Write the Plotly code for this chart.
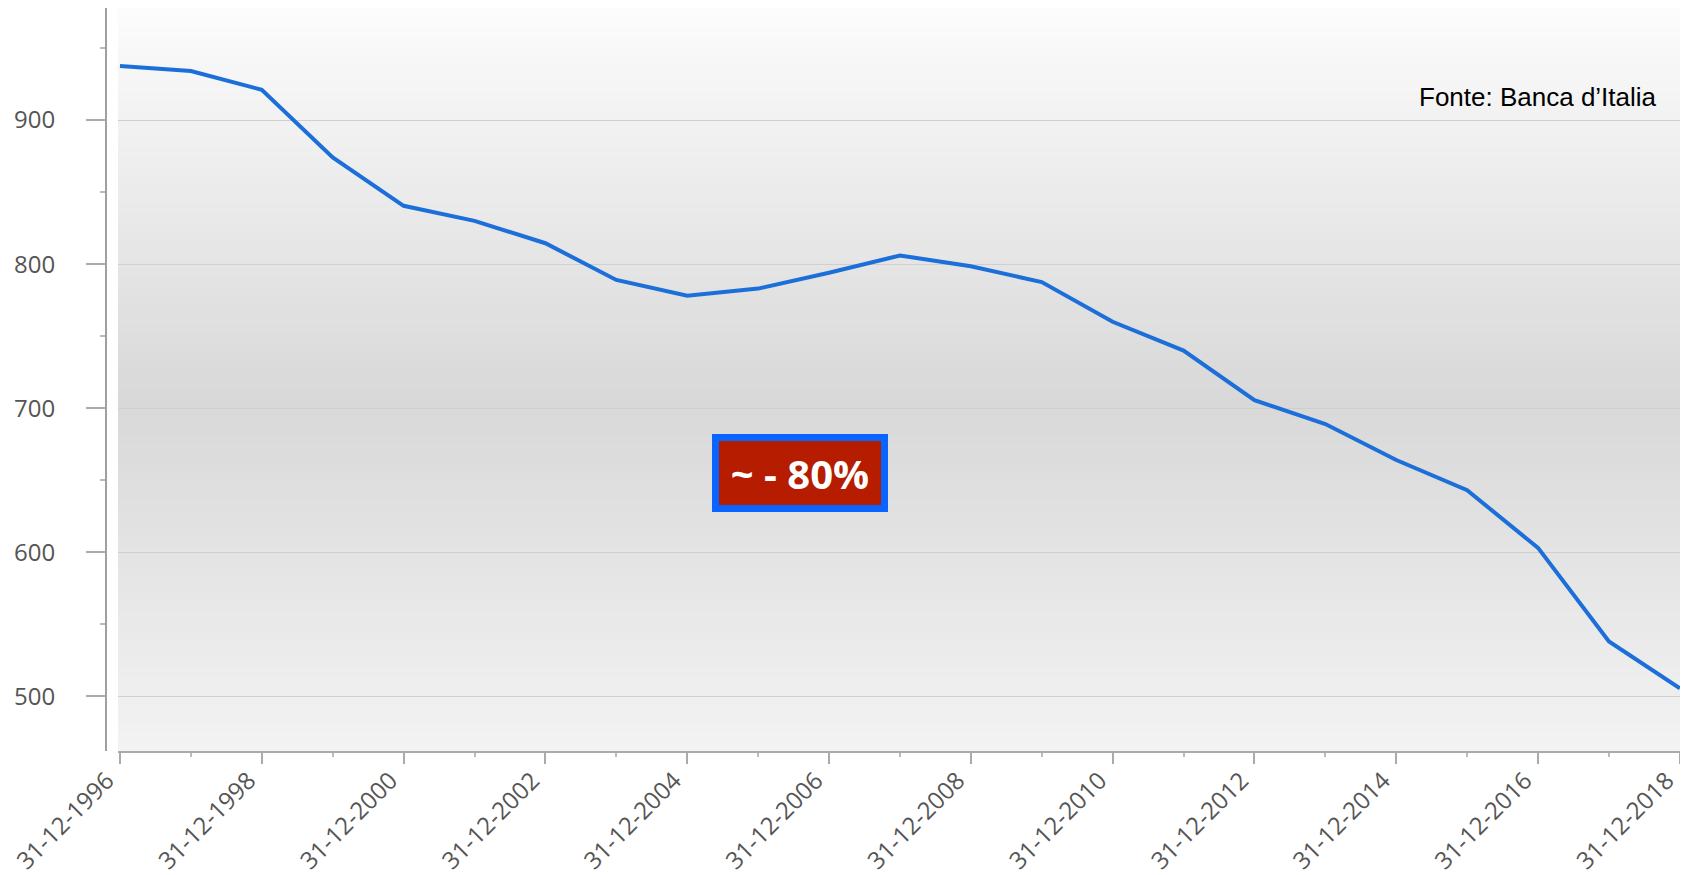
import plotly.graph_objects as go

# ---- data ----
years = list(range(1996, 2019))
values = [937.5, 934, 921, 874, 840.5, 830, 814.5, 789, 778, 783, 794, 806,
          798.5, 787.5, 760, 740, 705.5, 689, 664, 643, 603, 538, 505.5]
major_tick_years = list(range(1996, 2019, 2))
major_tick_labels = [f"31-12-{y}" for y in major_tick_years]
minor_tick_years = list(range(1997, 2019, 2))
y_ticks = [500, 600, 700, 800, 900]
source_text = "Fonte: Banca d\u2019Italia"
badge_text = "~ - 80%"

# the page body has an 8px margin, so the figure starts at (8, 8)
OFF = 8
W, H = 1688 - OFF, 875 - OFF
ML, MR, MT, MB = 92, 6, 0, 124
plot_w = W - ML - MR
plot_h = H - MT - MB
PLOT_LEFT = OFF + ML          # page x of paper 0
PLOT_BOTTOM = OFF + H - MB    # page y of paper 0


def px(x_page):
    return (x_page - PLOT_LEFT) / plot_w


def py(y_page):
    return (PLOT_BOTTOM - y_page) / plot_h


fig = go.Figure()
fig.add_trace(go.Scatter(
    x=years, y=values, mode="lines",
    line=dict(color="#1c6fd9", width=4),
    hoverinfo="skip", showlegend=False,
))

# background vertical gradient (light top, darker middle, light bottom)
def grad(f):
    stops = [(0.0, 243), (0.47, 216), (1.0, 252)]
    for (f0, c0), (f1, c1) in zip(stops[:-1], stops[1:]):
        if f0 <= f <= f1:
            t = (f - f0) / (f1 - f0)
            return int(round(c0 + (c1 - c0) * t))
    return stops[-1][1]

shapes = []
N = 80
for i in range(N):
    f0, f1 = i / N, (i + 1) / N
    c = grad((f0 + f1) / 2)
    shapes.append(dict(type="rect", xref="x domain", yref="y domain",
                       x0=0, x1=1, y0=f0, y1=f1 + 0.002,
                       fillcolor=f"rgb({c},{c},{c})", line=dict(width=0),
                       layer="below"))

fig.update_layout(
    width=W, height=H,
    margin=dict(l=ML, r=MR, t=MT, b=MB),
    paper_bgcolor="white", plot_bgcolor="white",
    shapes=shapes,
    xaxis=dict(
        domain=[px(118), 1], automargin=False,
        range=[1995.972, 2018.03],
        tickvals=major_tick_years, ticktext=major_tick_labels,
        tickangle=-45, ticks="outside", ticklen=11, tickwidth=1.5,
        tickcolor="#aaaaaa", ticklabelstandoff=-7, ticklabelshift=-13,
        tickfont=dict(family="Open Sans", size=24, color="#555555"),
        showgrid=False, zeroline=False,
        showline=True, linecolor="#aaaaaa", linewidth=2,
        minor=dict(tickvals=minor_tick_years, ticks="outside", ticklen=4,
                   tickcolor="#bbbbbb", showgrid=False),
    ),
    yaxis=dict(
        range=[462, 977.8], anchor="free", position=px(106), automargin=False,
        tickvals=y_ticks, ticks="outside", ticklen=19, tickwidth=1.5,
        tickcolor="#aaaaaa", ticklabelstandoff=26,
        tickfont=dict(family="Open Sans", size=24, color="#555555"),
        showgrid=True, gridcolor="#cfcfcf", gridwidth=1.2,
        zeroline=False, showline=True, linecolor="#a0a0a0", linewidth=2,
        minor=dict(dtick=50, ticks="outside", ticklen=5, tickcolor="#bbbbbb",
                   showgrid=False),
    ),
    annotations=[
        dict(text=source_text, xref="paper", yref="paper",
             x=px(1659), y=py(97),
             xanchor="right", yanchor="middle", showarrow=False,
             font=dict(family="Liberation Sans, Arial", size=26, color="#000000")),
        dict(text=f"<b>{badge_text}</b>", xref="paper", yref="paper",
             x=px(800), y=py(473),
             xanchor="center", yanchor="middle", showarrow=False,
             width=150, height=52, borderpad=6, borderwidth=7,
             bgcolor="#b51c00", bordercolor="#0a64ff",
             font=dict(family="Open Sans", size=40, color="#ffffff")),
    ],
)

fig.write_html("out.html")
